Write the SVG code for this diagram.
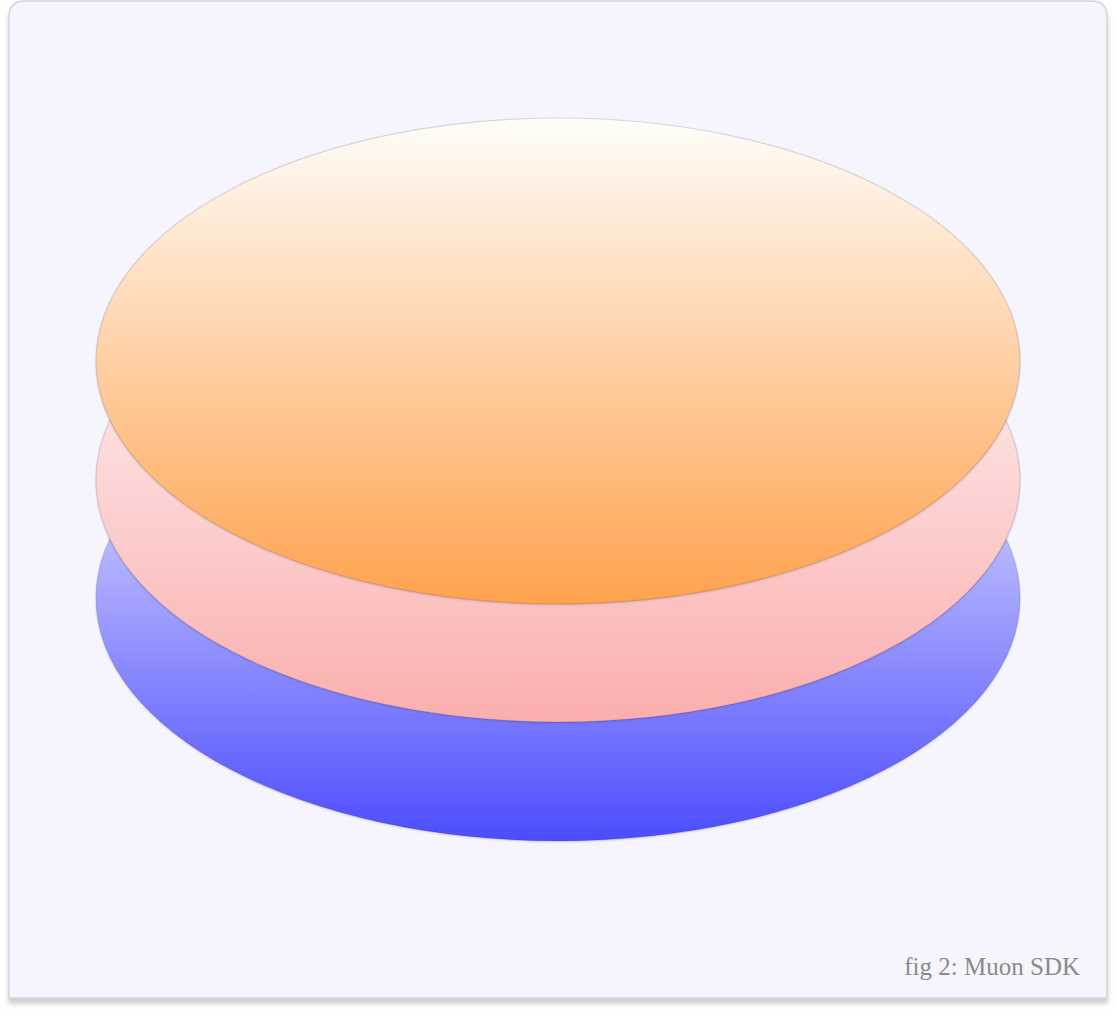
<svg xmlns="http://www.w3.org/2000/svg" width="1116" height="1016" viewBox="0 0 1116 1016">
<defs>
<linearGradient id="gBlue" x1="0" y1="0" x2="0" y2="1">
<stop offset="0" stop-color="#fafaff"/>
<stop offset="1" stop-color="#4c4cfe"/>
</linearGradient>
<linearGradient id="gPink" x1="0" y1="0" x2="0" y2="1">
<stop offset="0" stop-color="#fffcfc"/>
<stop offset="1" stop-color="#fbaeae"/>
</linearGradient>
<linearGradient id="gOrange" x1="0" y1="0" x2="0" y2="1">
<stop offset="0" stop-color="#fffdfa"/>
<stop offset="1" stop-color="#ffa24e"/>
</linearGradient>
<filter id="cardShadow" x="-5%" y="-5%" width="110%" height="110%">
<feDropShadow dx="0" dy="5" stdDeviation="2.5" flood-color="#000" flood-opacity="0.2"/>
</filter>
<filter id="soft" x="-5%" y="-5%" width="110%" height="110%">
<feDropShadow dx="0" dy="1" stdDeviation="1" flood-color="#000" flood-opacity="0.15"/>
</filter>
</defs>
<style>
.disc { stroke: #000; stroke-opacity: 0.13; stroke-width: 1.2; filter: url(#soft); }
.caption { font-family: "Liberation Serif", "DejaVu Serif", serif; font-size: 25px; fill: #8a8a8f; }
</style>
<path d="M9,998 L9,17 Q9,1 25,1 L1091,1 Q1107,1 1107,17 L1107,998 Z" fill="#f6f5fe" stroke="#d4d4d8" stroke-width="1.5" filter="url(#cardShadow)"/>
<g id="layer-bottom">
<ellipse class="disc" cx="558" cy="598" rx="462" ry="243" fill="url(#gBlue)"/>
</g>
<g id="layer-middle">
<ellipse class="disc" cx="558" cy="480" rx="462" ry="242" fill="url(#gPink)"/>
</g>
<g id="layer-top">
<ellipse class="disc" cx="558" cy="361" rx="462" ry="243" fill="url(#gOrange)"/>
</g>
<g id="connectors"></g>
<text class="caption" x="1080" y="975" text-anchor="end">fig 2: Muon SDK</text>
</svg>
